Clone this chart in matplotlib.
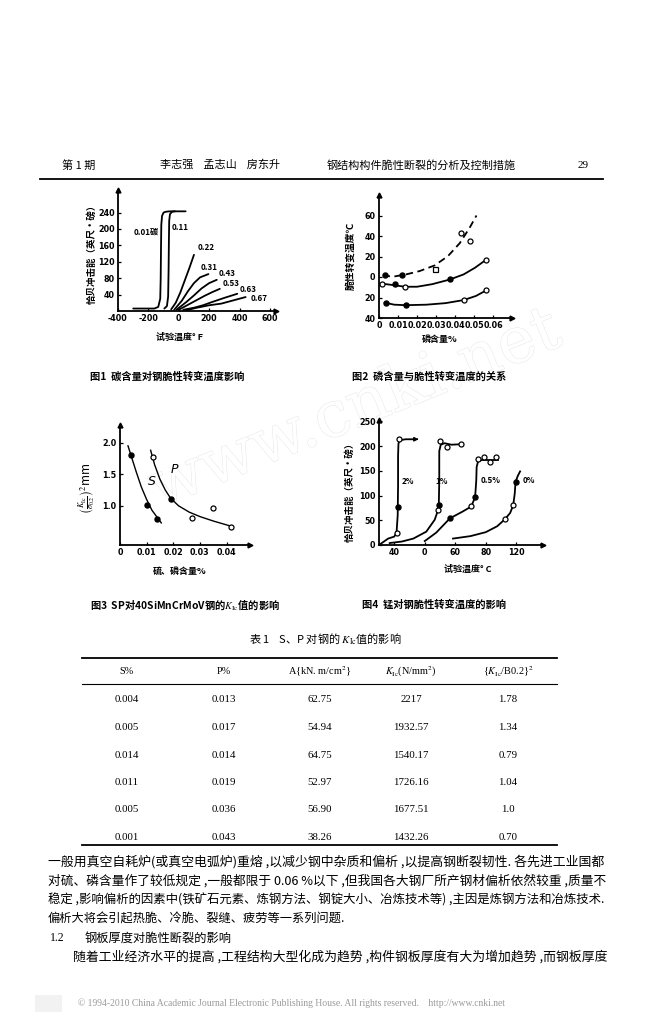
import matplotlib
matplotlib.use('Agg')
import matplotlib.pyplot as plt
import matplotlib.patheffects as pe

# ---------------- data ----------------
# fig 1: carbon content vs Charpy energy (deg F, ft-lb)
c_labels = ['0.01碳', '0.11', '0.22', '0.31', '0.43', '0.53', '0.63', '0.67']
c_x = [
    [-300, -160, -135, -122, -119, -117, -115, -110, -100, -85, -60, 0, 45],
    [-95, -78, -70, -67, -65, -63, -58, -45, -25],
    [-50, -20, 10, 40, 70, 100],
    [-30, 20, 60, 100, 140, 195],
    [-15, 50, 100, 150, 200, 250],
    [0, 60, 120, 170, 220, 270],
    [30, 100, 160, 220, 300, 385],
    [50, 120, 200, 280, 360, 440],
]
c_y = [
    [6, 6, 10, 30, 80, 150, 210, 232, 240, 242, 243, 243, 243],
    [6, 12, 35, 100, 170, 220, 236, 242, 243],
    [4, 20, 45, 75, 105, 137],
    [3, 25, 48, 68, 82, 90],
    [3, 22, 38, 55, 68, 76],
    [3, 15, 27, 37, 46, 54],
    [3, 8, 14, 22, 32, 42],
    [2, 8, 14, 18, 26, 34],
]
c_lab_pos = [(-215, 192), (10, 203), (180, 155), (200, 107), (320, 91), (345, 67), (455, 52), (527, 30)]

# fig 2: phosphorus content vs transition temperature
p_curve_x = [
    [0.002, 0.0074, 0.0144, 0.0214, 0.0293, 0.0363, 0.0425, 0.0477, 0.0513],
    [0.0016, 0.008, 0.0135, 0.02, 0.028, 0.0372, 0.0445, 0.0505, 0.0565],
    [0.003, 0.008, 0.014, 0.025, 0.035, 0.0446, 0.051, 0.0565],
]
p_curve_y = [
    [1.6, 0.3, 2.6, 5.8, 11.3, 20.4, 33, 48, 60],
    [-6.5, -8, -9.5, -9.5, -7, -2.5, 2.5, 9, 17],
    [-25, -27, -27.5, -27, -25.5, -22.5, -18.5, -13],
]
p_style = ['--', '-', '-']
p_fill_x = [0.003, 0.0123, 0.0083, 0.0372, 0.0039, 0.014]
p_fill_y = [2, 1.5, -7, -2.3, -25, -27]
p_open_x = [0.0434, 0.0477, 0.0016, 0.0135, 0.0565, 0.0446, 0.0565]
p_open_y = [43, 35, -6.5, -9.4, 17, -22.7, -13]
p_sq_x = [0.0293]
p_sq_y = [7.5]

# fig 3: S, P content vs (KIc/sigma0.2)^2
s_pts_x = [0.004, 0.010, 0.0138]
s_pts_y = [1.80, 1.02, 0.79]
s_line_x = [0.003, 0.0045, 0.006, 0.008, 0.010, 0.012, 0.0155]
s_line_y = [1.95, 1.75, 1.55, 1.30, 1.10, 0.93, 0.73]
pp_open_x = [0.0123, 0.027, 0.0348, 0.0415]
pp_open_y = [1.78, 0.80, 0.96, 0.67]
pp_fill_x = [0.019]
pp_fill_y = [1.11]
pp_line_x = [0.0115, 0.013, 0.015, 0.017, 0.019, 0.022, 0.026, 0.030, 0.035, 0.0415]
pp_line_y = [1.88, 1.65, 1.42, 1.25, 1.12, 1.00, 0.90, 0.83, 0.76, 0.68]

# fig 4: manganese, Charpy energy vs temperature
mn_labels = ['2%', '1%', '0.5%', '0%']
mn_x = [
    [-60, -48, -40, -37, -35.5, -35, -35, -34.5, -33, -25, -13],
    [-46, -30, -15, 2, 13, 17.5, 18.4, 19, 19, 21, 26, 35, 48],
    [0, 15, 33, 50, 61, 66, 67.5, 68, 70, 75, 85, 96],
    [37, 60, 80, 95, 105, 112, 116, 118, 119, 122, 125],
]
mn_y = [
    [0, 13, 17, 25, 60, 120, 180, 205, 212, 214, 214],
    [4, 7, 13, 27, 51, 71, 81, 130, 190, 203, 206, 203, 204],
    [8, 25, 54, 68, 78, 97, 130, 158, 170, 172, 172, 172],
    [13, 18, 26, 38, 52, 65, 81, 105, 128, 140, 149],
]
mn_open_x = [-37, -34, 17.5, 20, 28.5, 48, 61, 70, 78, 85.5, 94, 105, 116]
mn_open_y = [25, 214, 71, 210, 199, 204, 78, 174, 178, 169, 179, 52, 81]
mn_fill_x = [-35, 18.4, 33, 66, 119]
mn_fill_y = [76, 81, 54, 97, 128]
mn_lab_pos = [(-22, 128), (22, 128), (86, 130), (137, 131)]
mn_xticks = [-40, 0, 40, 80, 120]
mn_xticklabels = ['40', '0', '60', '80', '120']

# table 1
tab_head = ['S%', 'P%', 'A{kN. m/cm$^2$}', '$K_{\\rm Ic}$(N/mm$^2$)', '{$K_{\\rm Ic}$/B0.2}$^2$']
tab_S = ['0.004', '0.005', '0.014', '0.011', '0.005', '0.001']
tab_P = ['0.013', '0.017', '0.014', '0.019', '0.036', '0.043']
tab_A = ['62.75', '54.94', '64.75', '52.97', '56.90', '38.26']
tab_K = ['2217', '1932.57', '1540.17', '1726.16', '1677.51', '1432.26']
tab_R = ['1.78', '1.34', '0.79', '1.04', '1.0', '0.70']

para = [
    '一般用真空自耗炉(或真空电弧炉)重熔 ,以减少钢中杂质和偏析 ,以提高钢断裂韧性. 各先进工业国都',
    '对硫、磷含量作了较低规定 ,一般都限于 0.06 %以下 ,但我国各大钢厂所产钢材偏析依然较重 ,质量不',
    '稳定 ,影响偏析的因素中(铁矿石元素、炼钢方法、钢锭大小、冶炼技术等) ,主因是炼钢方法和冶炼技术.',
    '偏析大将会引起热脆、冷脆、裂缝、疲劳等一系列问题.',
]

# ---------------- figure ----------------
W, H = 649, 1024
plt.rcParams['font.family'] = ['Noto Sans CJK SC', 'DejaVu Sans']
plt.rcParams['mathtext.fontset'] = 'stix'

fig = plt.figure(figsize=(W / 100, H / 100), dpi=100)
fig.patch.set_facecolor('white')


def box(l, t, r, b):
    return [l / W, 1 - b / H, (r - l) / W, (b - t) / H]


def ftext(x, y, s, **kw):
    return fig.text(x / W, 1 - y / H, s, **kw)


def style(ax, xt, xl, yt, yl):
    for s in ('top', 'right'):
        ax.spines[s].set_visible(False)
    for s in ('left', 'bottom'):
        ax.spines[s].set_linewidth(1.3)
    ax.set_xticks(xt, xl, fontsize=5.8, fontweight='bold', family='DejaVu Sans')
    ax.set_yticks(yt, yl, fontsize=5.8, fontweight='bold', family='DejaVu Sans')
    ax.tick_params(direction='in', length=2.5, width=0.9, pad=2.5)
    ax.plot(1, 0, '>k', ms=3.5, transform=ax.transAxes, clip_on=False)
    ax.plot(0, 1, '^k', ms=3.5, transform=ax.transAxes, clip_on=False)
    ax.patch.set_alpha(0)


lw = 1.3
mk = dict(ms=3.6, ls='none', zorder=5)
bold = dict(fontweight='bold')

# watermark
ftext(355, 410, 'www.cnki.net', fontsize=46, family='DejaVu Serif', color='white',
      rotation=22, ha='center', va='center', zorder=-5,
      path_effects=[pe.Stroke(linewidth=0.7, foreground='#e6e6e6'), pe.Normal()])

# header
ftext(62, 165, '第 1 期', fontsize=8, va='center')
ftext(160, 165, '李志强    孟志山    房东升', fontsize=8, va='center')
ftext(327, 165, '钢结构构件脆性断裂的分析及控制措施', fontsize=8, va='center')
ftext(578, 165, '29', fontsize=8, va='center', family='Liberation Serif')
fig.add_artist(plt.Line2D([40 / W, 603 / W], [1 - 179 / H] * 2, color='black', lw=1.3))

# ---- fig 1 ----
ax1 = fig.add_axes(box(118, 190, 276, 311))
for xs, ys in zip(c_x, c_y):
    ax1.plot(xs, ys, color='black', lw=lw, solid_capstyle='round')
for lab, (x, y) in zip(c_labels, c_lab_pos):
    ax1.text(x, y, lab, fontsize=5.8, ha='center', va='center', fontweight='bold')
ax1.set_xlim(-400, 640)
ax1.set_ylim(0, 295)
style(ax1, [-400, -200, 0, 200, 400, 600], ['-400', '-200', '0', '200', '400', '600'],
      [40, 80, 120, 160, 200, 240], ['40', '80', '120', '160', '200', '240'])
ftext(92, 252, '恰贝冲击能（英尺·磅）', fontsize=6.8, rotation=90, ha='center', va='center', **bold)
ftext(180, 337, '试验温度° F', fontsize=6.5, ha='center', va='center', **bold)

# ---- fig 2 ----
ax2 = fig.add_axes(box(379, 195, 512, 318))
for xs, ys, st in zip(p_curve_x, p_curve_y, p_style):
    ax2.plot(xs, ys, color='black', lw=lw, ls=st, dashes=(4, 2.5) if st == '--' else (None, None))
ax2.plot(p_fill_x, p_fill_y, 'o', color='black', **mk)
ax2.plot(p_open_x, p_open_y, 'o', mfc='white', mec='black', mew=0.9, **mk)
ax2.plot(p_sq_x, p_sq_y, 's', mfc='white', mec='black', mew=0.9, **mk)
ax2.set_xlim(0, 0.07)
ax2.set_ylim(-40, 80)
style(ax2, [0, 0.01, 0.02, 0.03, 0.04, 0.05, 0.06], ['0', '0.01', '0.02', '0.03', '0.04', '0.05', '0.06'],
      [-40, -20, 0, 20, 40, 60], ['40', '20', '0', '20', '40', '60'])
ftext(351, 256, '脆性转变温度℃', fontsize=7, rotation=90, ha='center', va='center', **bold)
ftext(440, 339, '磷含量%', fontsize=6.5, ha='center', va='center', **bold)

# captions
ftext(90, 377, '图1  碳含量对钢脆性转变温度影响', fontsize=7.4, va='center', **bold)
ftext(352, 377, '图2  磷含量与脆性转变温度的关系', fontsize=7.4, va='center', **bold)

# ---- fig 3 ----
ax3 = fig.add_axes(box(120, 425, 250, 545))
ax3.plot(s_line_x, s_line_y, color='black', lw=1.0)
ax3.plot(pp_line_x, pp_line_y, color='black', lw=1.0)
ax3.plot(s_pts_x, s_pts_y, 'o', color='black', **mk)
ax3.plot(pp_fill_x, pp_fill_y, 'o', color='black', **mk)
ax3.plot(pp_open_x, pp_open_y, 'o', mfc='white', mec='black', mew=0.9, **mk)
ax3.text(0.0119, 1.38, 'S', fontsize=9, style='italic', family='DejaVu Sans', ha='center', va='center')
ax3.text(0.0205, 1.57, 'P', fontsize=9, style='italic', family='DejaVu Sans', ha='center', va='center')
ax3.set_xlim(0, 0.0488)
ax3.set_ylim(0.38, 2.28)
style(ax3, [0, 0.01, 0.02, 0.03, 0.04], ['0', '0.01', '0.02', '0.03', '0.04'],
      [1.0, 1.5, 2.0], ['1.0', '1.5', '2.0'])
ftext(88, 488, r'$\left(\frac{K_{\rm Ic}}{\sigma_{0.2}}\right)^2$mm', fontsize=8.5,
      rotation=90, ha='center', va='center')
ftext(180, 571, '硫、磷含量%', fontsize=6.5, ha='center', va='center', **bold)

# ---- fig 4 ----
ax4 = fig.add_axes(box(379, 420, 543, 545))
for xs, ys in zip(mn_x, mn_y):
    ax4.plot(xs, ys, color='black', lw=lw)
ax4.plot(mn_fill_x, mn_fill_y, 'o', color='black', **mk)
ax4.plot(mn_open_x, mn_open_y, 'o', mfc='white', mec='black', mew=0.9, **mk)
ax4.annotate('', xy=(-8, 214), xytext=(-14, 214),
             arrowprops=dict(arrowstyle='-|>', color='black', lw=1.0, mutation_scale=6))
for lab, (x, y) in zip(mn_labels, mn_lab_pos):
    ax4.text(x, y, lab, fontsize=5.8, ha='center', va='center', fontweight='bold')
ax4.set_xlim(-60, 155)
ax4.set_ylim(0, 253)
style(ax4, mn_xticks, mn_xticklabels, [0, 50, 100, 150, 200, 250], ['0', '50', '100', '150', '200', '250'])
ftext(350, 490, '恰贝冲击能（英尺·磅）', fontsize=6.8, rotation=90, ha='center', va='center', **bold)
ftext(468, 569, '试验温度° C', fontsize=6.5, ha='center', va='center', **bold)

ftext(90, 605, r'图3  SP对40SiMnCrMoV钢的$K_{\rm Ic}$值的影响', fontsize=7.4, va='center', **bold)
ftext(362, 605, '图4  锰对钢脆性转变温度的影响', fontsize=7.4, va='center', **bold)

# ---- table ----
ftext(325, 638, r'表 1    S、P 对钢的 $K_{\rm Ic}$值的影响', fontsize=8, ha='center', va='center')
for y, w in ((658, 1.3), (684, 0.8), (845, 1.3)):
    fig.add_artist(plt.Line2D([82 / W, 557 / W], [1 - y / H] * 2, color='black', lw=w))
col_x = [127, 224, 320, 411, 508]
for cx, h in zip(col_x, tab_head):
    ftext(cx, 672, h, fontsize=7.4, ha='center', va='center', family='Liberation Serif')
for i, row in enumerate(zip(tab_S, tab_P, tab_A, tab_K, tab_R)):
    for cx, v in zip(col_x, row):
        ftext(cx, 700 + 27.5 * i, v, fontsize=7.8, ha='center', va='center', family='Liberation Serif')

# ---- paragraph ----
renderer = fig.canvas.get_renderer()
line_y = [862, 881, 900, 919, 938, 957]
for i, s in enumerate(para):
    t = ftext(48, line_y[i], s, fontsize=8.8, va='center', family=['Noto Sans CJK SC'])
    if i < 3:
        w = t.get_window_extent(renderer).width
        t.set_fontsize(8.8 * (607 - 48) / w)
ftext(50, line_y[4], '1.2', fontsize=8.5, va='center', family='Liberation Serif')
ftext(85, line_y[4], '钢板厚度对脆性断裂的影响', fontsize=8.8, va='center')
t = ftext(73, line_y[5], '随着工业经济水平的提高 ,工程结构大型化成为趋势 ,构件钢板厚度有大为增加趋势 ,而钢板厚度',
          fontsize=8.8, va='center')
w = t.get_window_extent(renderer).width
t.set_fontsize(8.8 * (607 - 73) / w)

# footer
ftext(78, 1003, '© 1994-2010 China Academic Journal Electronic Publishing House. All rights reserved.    http://www.cnki.net',
      fontsize=6.9, va='center', color='#9a9a9a', family='Liberation Serif')
fig.add_artist(plt.Rectangle((35 / W, 1 - 1012 / H), 27 / W, 17 / H, color='#f2f2f2', lw=0))

fig.savefig('out.png', dpi=100, facecolor='white')
